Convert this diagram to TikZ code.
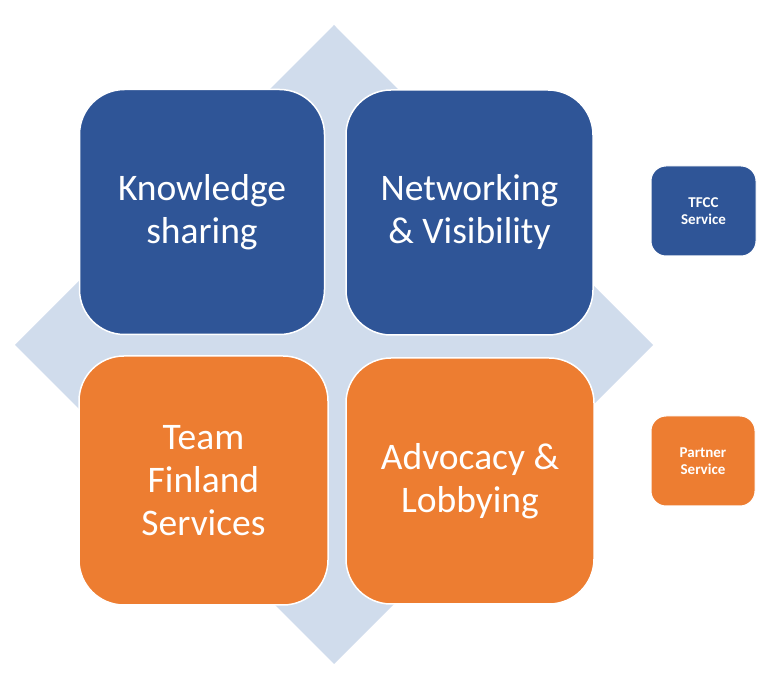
\documentclass[tikz,border=0pt]{standalone}
\usepackage{fontspec}
\setmainfont{Carlito}
\usetikzlibrary{positioning}

\definecolor{tfccblue}{HTML}{2F5597}
\definecolor{partnerorange}{HTML}{ED7D31}
\definecolor{diamondblue}{HTML}{D0DCEC}

\tikzset{
    bigbox/.style={draw=white, line width=1.5pt, rounded corners=45pt, text=white, align=center,
        font=\fontsize{37.5}{43}\selectfont, inner sep=0pt},
    smallbox/.style={draw=white, line width=1pt, rounded corners=15pt, text=white, align=center,
        font=\fontsize{15}{17}\selectfont\bfseries, inner sep=0pt},
}

\begin{document}
\begin{tikzpicture}[x=1pt, y=-1pt]

        \useasboundingbox (0,0) rectangle (772,684);

        \fill[diamondblue] (334,25) -- (653,345) -- (334,664) -- (15,345) -- cycle;

        \node[bigbox, fill=tfccblue, minimum width=245pt, minimum height=245pt] (knowledge) at (202,212) {Knowledge\\sharing};
        \node[bigbox, fill=tfccblue, minimum width=247pt, minimum height=245pt] (networking) at (469.5,212.5) {Networking\\\& Visibility};
        \node[bigbox, fill=partnerorange, minimum width=249pt, minimum height=249pt] (teamfinland) at (203.5,480.5) {Team\\Finland\\Services};
        \node[bigbox, fill=partnerorange, minimum width=248pt, minimum height=246pt] (advocacy) at (470,481) {Advocacy \&\\Lobbying};

        \node[smallbox, fill=tfccblue, minimum width=105pt, minimum height=90pt] (tfcc) at (703.5,211) {TFCC\\Service};
        \node[smallbox, fill=partnerorange, minimum width=104pt, minimum height=90pt] (partner) at (703,461) {Partner\\Service};

    \end{tikzpicture}
\end{document}
